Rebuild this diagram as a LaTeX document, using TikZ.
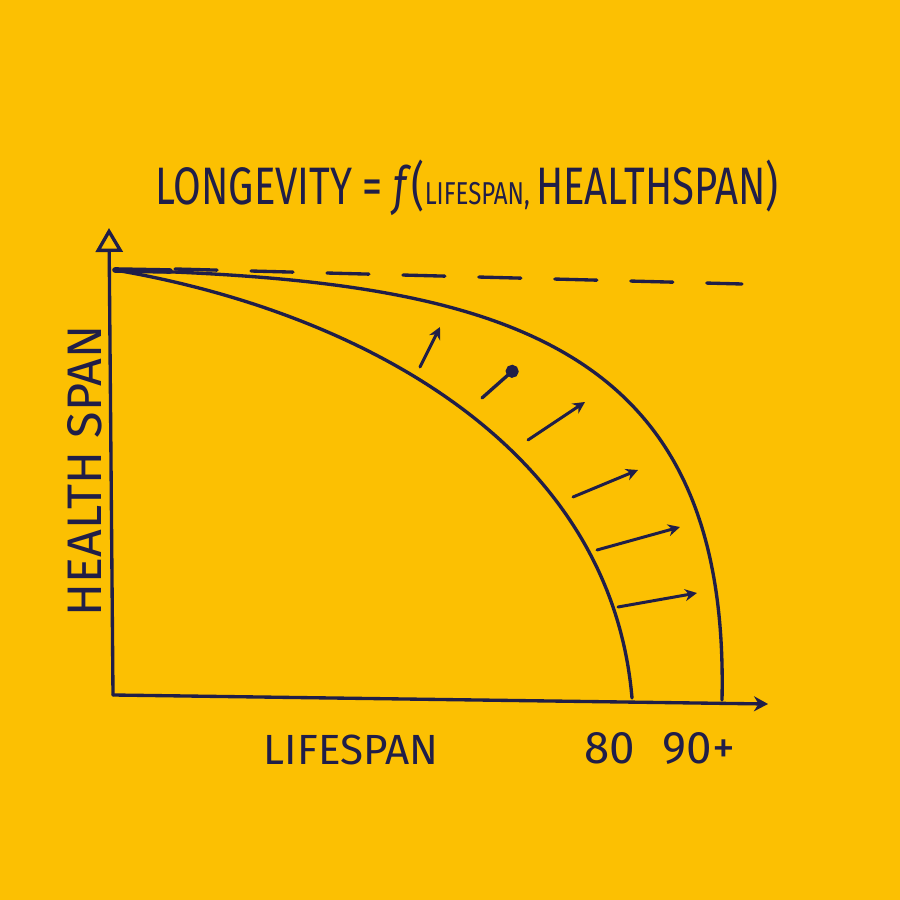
\documentclass[tikz,border=0pt]{standalone}
\usepackage{fontspec}
\setmainfont{Fira Sans}
\usetikzlibrary{%
  arrows.meta,%
  calc%
}
\definecolor{paper}{RGB}{252,192,2}
\definecolor{ink}{RGB}{32,30,72}
\tikzset{>=latex}
\tikzset{
  pen/.style={ink,line width=0.95pt,line cap=round,line join=round},
  push/.style={pen,line width=0.85pt,-{Stealth[length=1.2mm,width=1.2mm]}},
  scribble/.style={ink,inner sep=0pt}
}

\begin{document}
\begin{tikzpicture}
    \fill[paper] (0cm,0cm) rectangle (9cm,9cm);
    \useasboundingbox (0cm,0cm) rectangle (9cm,9cm);

    % axes
    \coordinate (origin) at (1.13cm,2.05cm);
    \coordinate (ytop) at (1.09cm,6.72cm);
    \coordinate (xend) at (7.68cm,1.96cm);
    \draw[pen,-{Triangle[open,length=2.4mm,width=2.7mm,line width=0.95pt]}] (origin) -- (ytop);
    \draw[pen,-{Stealth[length=1.4mm,width=1.5mm]}] (origin) -- (xend);

    % upper limit
    \coordinate (start) at (1.15cm,6.30cm);
    \draw[pen,dash pattern=on 4.2mm off 3.4mm] (1.75cm,6.31cm) -- (7.42cm,6.16cm);
    \draw[pen,line width=1.6pt] (start) -- (1.70cm,6.29cm);

    % healthspan today (80)
    \coordinate (eightyend) at (6.32cm,2.02cm);
    \draw[pen] (start) .. controls (3.5cm,5.9cm) and (6.1cm,4.6cm) .. (eightyend);

    % healthspan extended (90+)
    \coordinate (ninetyend) at (7.22cm,2.00cm);
    \draw[pen] (start) .. controls (5.0cm,6.2cm) and (7.3cm,5.6cm) .. (ninetyend);

    % shift arrows
    \draw[push] (4.20cm,5.33cm) -- (4.40cm,5.73cm);
    \draw[pen,-{Circle[length=1.3mm]}] (4.82cm,5.02cm) -- (5.17cm,5.33cm);
    \draw[push] (5.28cm,4.60cm) -- (5.85cm,4.98cm);
    \draw[push] (5.73cm,4.03cm) -- (6.38cm,4.30cm);
    \draw[push] (5.97cm,3.50cm) -- (6.80cm,3.73cm);
    \draw[push] (6.18cm,2.93cm) -- (6.97cm,3.07cm);

    % labels
    \draw (4.67cm,7.12cm) node[scribble] (title)
      {\scalebox{0.76}[1]{\fontsize{15pt}{17pt}\selectfont LONGEVITY = \textit{f}(\small LIFESPAN, \fontsize{15pt}{17pt}\selectfont HEALTHSPAN)}};
    \draw (0.85cm,4.29cm) node[scribble,rotate=90] (hlabel)
      {\fontsize{13.8pt}{16pt}\selectfont HEALTH SPAN};
    \draw (3.51cm,1.50cm) node[scribble] (llabel)
      {\fontsize{12pt}{14pt}\selectfont LIFESPAN};
    \draw (6.10cm,1.52cm) node[scribble] (eighty)
      {\fontsize{13pt}{15pt}\selectfont 80};
    \draw (6.99cm,1.52cm) node[scribble] (ninety)
      {\fontsize{13pt}{15pt}\selectfont 90+};
\end{tikzpicture}
\end{document}
